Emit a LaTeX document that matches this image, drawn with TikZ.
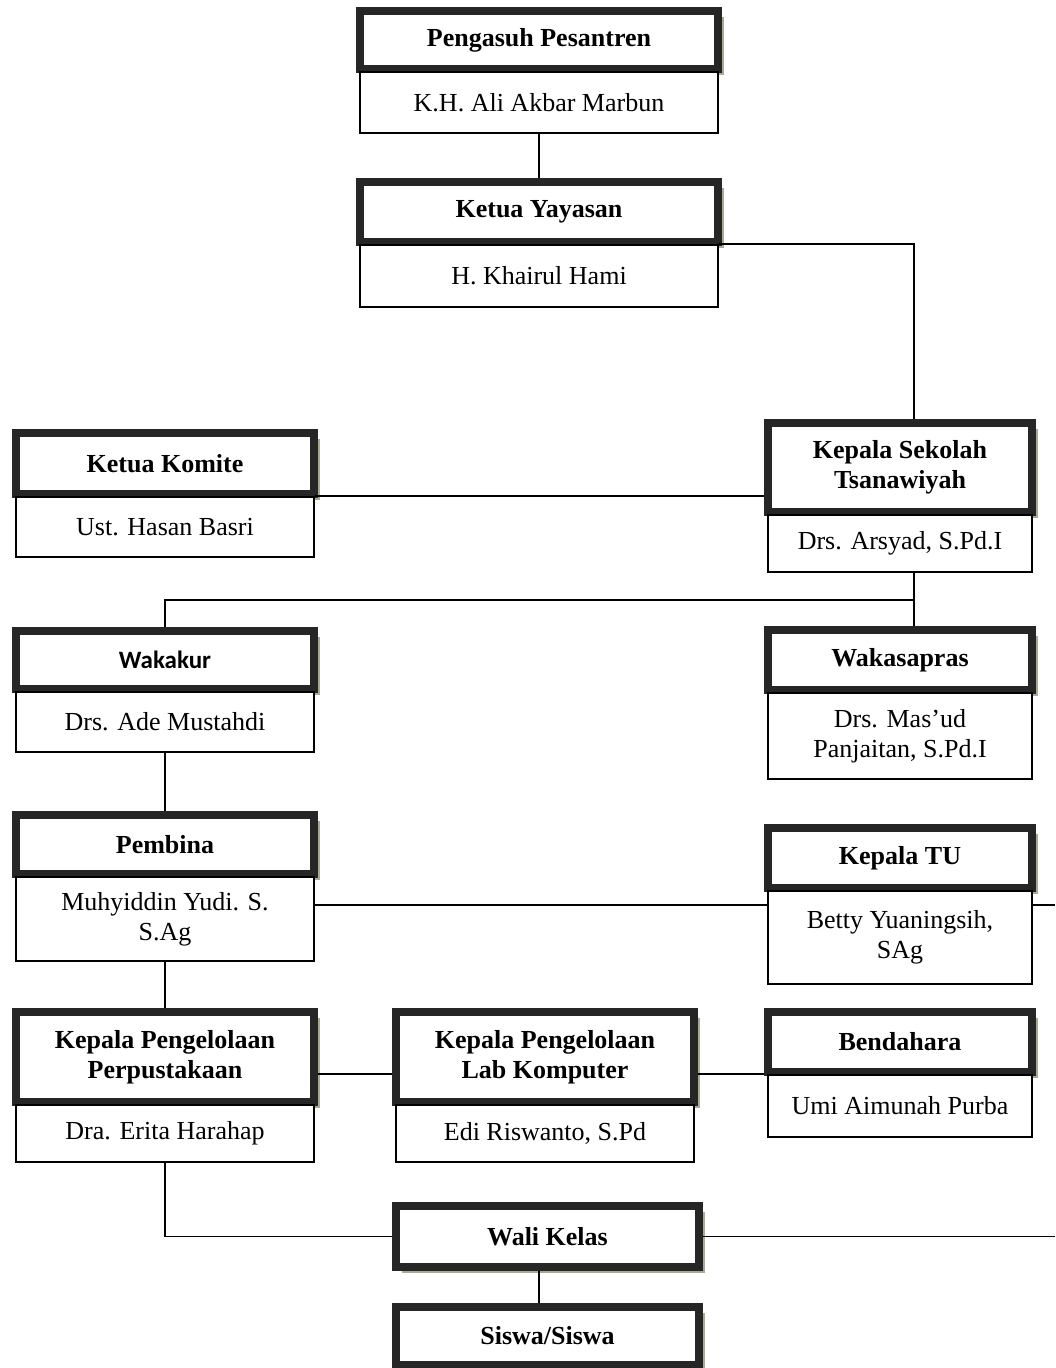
\documentclass[tikz,border=0pt]{standalone}
\usepackage{fontspec}
\setmainfont{Liberation Serif}
\newfontfamily\calibri{Carlito}
\usepackage{tikz}
\usetikzlibrary{positioning,shadows}

\definecolor{boxdark}{RGB}{38,38,38}
\definecolor{shadowgreen}{RGB}{164,173,146}

\tikzset{
  jabatan/.style={rectangle, draw=boxdark, line width=8pt, fill=white,
    inner sep=0pt, align=center, minimum height=60pt,
    font=\fontsize{26}{30}\selectfont\bfseries,
    drop shadow={shadow xshift=6pt, shadow yshift=-6pt, fill=shadowgreen, opacity=1}},
  nama/.style={rectangle, draw=black, line width=2pt, fill=white,
    inner sep=0pt, align=center, minimum height=60pt,
    font=\fontsize{26}{30}\selectfont},
  garis/.style={draw=black, line width=1.5pt},
  kiri/.style={minimum width=298pt},
  kanan/.style={minimum width=264pt},
  tengah/.style={minimum width=358pt}
}

\begin{document}
\begin{tikzpicture}[x=1pt,y=-1pt]
            \fill[white, use as bounding box] (0,0) rectangle (1055,1368);
            \coordinate (rx) at (914,600);
            \coordinate (edge) at (1055,0);
            \coordinate (tuline) at (0,905);
            \coordinate (labline) at (0,1074);

            % bagian atas
            \node[jabatan, tengah, minimum height=58pt] (pengasuh) at (539,40) {Pengasuh Pesantren};
            \node[nama, tengah, minimum height=61pt] (kh) [below=-2pt of pengasuh] {K.H. Ali Akbar Marbun};
            \node[jabatan, tengah] (yayasan) at (539,212) {Ketua Yayasan};
            \node[nama, tengah, minimum height=62pt] (khairul) [below=-2pt of yayasan] {H. Khairul Hami};

            \node[jabatan, kiri, minimum height=61pt] (komite) at (165,463.5) {Ketua Komite};
            \node[nama, kiri] (hasan) [below=-2pt of komite] {Ust. Hasan Basri};
            \node[jabatan, kanan, minimum height=89pt] (kepsek) at (900,467.5) {Kepala Sekolah\\Tsanawiyah};
            \node[nama, kanan, minimum height=57pt] (arsyad) [below=-2pt of kepsek] {Drs. Arsyad, S.Pd.I};

            % wakil
            \node[jabatan, kiri, minimum height=58pt, font=\fontsize{25}{30}\selectfont\calibri\bfseries] (wakakur) at (165,660) {Wakakur};
            \node[nama, kiri] (ade) [below=-2pt of wakakur] {Drs. Ade Mustahdi};
            \node[jabatan, kanan] (wakasapras) at (900,660) {Wakasapras};
            \node[nama, kanan, minimum height=86pt] (masud) [below=-2pt of wakasapras] {Drs. Mas’ud\\Panjaitan, S.Pd.I};

            \node[jabatan, kiri, minimum height=59pt] (pembina) at (165,844.5) {Pembina};
            \node[nama, kiri, minimum height=84pt] (muhyiddin) [below=-2pt of pembina] {Muhyiddin Yudi. S.\\S.Ag};
            \node[jabatan, kanan] (kepalatu) at (900,858) {Kepala TU};
            \node[nama, kanan, minimum height=93pt] (betty) [below=-2pt of kepalatu] {Betty Yuaningsih,\\SAg};

            % pengelola
            \node[jabatan, kiri, minimum height=90pt] (perpus) at (165,1057) {Kepala Pengelolaan\\Perpustakaan};
            \node[nama, kiri, minimum height=57pt] (erita) [below=-2pt of perpus] {Dra. Erita Harahap};
            \node[jabatan, kiri, minimum height=90pt] (lab) at (545,1057) {Kepala Pengelolaan\\Lab Komputer};
            \node[nama, kiri, minimum height=57pt] (edi) [below=-2pt of lab] {Edi Riswanto, S.Pd};
            \node[jabatan, kanan] (bendahara) at (900,1042) {Bendahara};
            \node[nama, kanan, minimum height=62pt] (umi) [below=-2pt of bendahara] {Umi Aimunah Purba};

            \node[jabatan, minimum width=303pt, minimum height=61pt] (wali) at (547.5,1236.5) {Wali Kelas};
            \node[jabatan, minimum width=303pt, minimum height=58pt] (siswa) at (547.5,1336) {Siswa/Siswa};

            % garis penghubung
            \path[garis]
                (kh.south) -- (yayasan.north)
                (khairul.north east) -- (khairul.north east -| rx) -- (kepsek.north -| rx)
                (hasan.north east) -- (hasan.north east -| kepsek.west)
                (arsyad.south -| rx) -- (wakasapras.north -| rx)
                (rx) -| (wakakur.north)
                (ade.south) -- (pembina.north)
                (muhyiddin.east |- tuline) -- (betty.west |- tuline)
                (betty.east |- tuline) -- (edge |- tuline)
                (muhyiddin.south) -- (perpus.north)
                (perpus.east |- labline) -- (lab.west |- labline)
                (lab.east |- labline) -- (bendahara.west |- labline)
                (erita.south) |- (wali.west)
                (wali.east) -- (wali.east -| edge)
                (wali.south -| kh.south) -- (siswa.north -| kh.south);
        \end{tikzpicture}
\end{document}
